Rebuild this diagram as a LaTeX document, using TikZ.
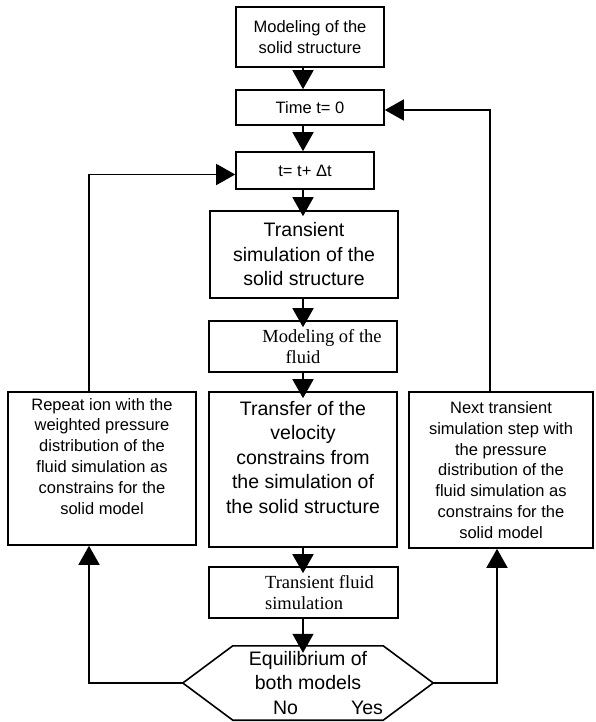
\documentclass[tikz,border=0pt]{standalone}
\usepackage{fontspec}
\setmainfont{Liberation Sans}
\newfontfamily\serifface{Liberation Serif}
\usetikzlibrary{arrows.meta}

\tikzset{
	box/.style={draw, line width=1.6pt, align=center, inner sep=2pt},
	txtsmall/.style={font=\fontsize{16.5}{20.8}\selectfont},
	txtbig/.style={font=\fontsize{19.5}{24.5}\selectfont},
	txtserif/.style={font=\serifface\fontsize{18.5}{21}\selectfont},
	flow/.style={line width=1.5pt, -{Triangle[length=19pt,width=21pt]}},
}

\begin{document}
\begin{tikzpicture}[x=1pt, y=-1pt]
			%%%%% START %%%%%
			\useasboundingbox (0, 0) rectangle (595, 722);
			
			\node[box, txtsmall, minimum width=148pt, minimum height=60pt] (solid) at (310, 37) {Modeling of the\\solid structure};
			\node[box, txtsmall, minimum width=148pt, minimum height=35pt] (time) at (310, 107.5) {Time t= 0};
			\node[box, txtsmall, minimum width=138pt, minimum height=37pt] (tstep) at (305, 170.5) {t= t+ Δt};
			
			\node[box, txtbig, minimum width=188pt, minimum height=87pt] (trans) at (304, 254.5) {Transient\\simulation of the\\solid structure};
			\node[box, txtserif, minimum width=188pt, minimum height=51pt] (fluid) at (303, 346.5) {\hspace*{38pt}Modeling of the\\fluid};
			\node[box, txtbig, minimum width=188pt, minimum height=155pt] (transfer) at (303, 469.5) {Transfer of the\\velocity\\constrains from\\the simulation of\\the solid structure\\ \mbox{}};
			\node[box, txtserif, align=left, minimum width=189pt, minimum height=51pt] (fsim) at (303.5, 592.5) {\hspace*{32pt}Transient fluid\\\hspace*{32pt}simulation};
			
			\node[txtbig, align=center, minimum width=250pt, minimum height=74pt, inner sep=0pt] (eq) at (308, 683) {Equilibrium of\\both models\\\hspace*{40pt}No\hspace{53pt}Yes};
			\draw[line width=1.6pt] (eq.west) -- ([xshift=50pt]eq.north west) -- ([xshift=-50pt]eq.north east) -- (eq.east) -- ([xshift=-50pt]eq.south east) -- ([xshift=50pt]eq.south west) -- cycle;
			
			\node[box, txtsmall, minimum width=188pt, minimum height=153pt] (repeat) at (102, 468.5) {Repeat ion with the\\weighted pressure\\distribution of the\\fluid simulation as\\constrains for the\\solid model\\[4pt]};
			\node[box, txtsmall, minimum width=184pt, minimum height=156pt] (next) at (501, 470) {Next transient\\simulation step with\\the pressure\\distribution of the\\fluid simulation as\\constrains for the\\solid model};
			
			% main chain
			\draw[flow] (solid.south -| 303, 0) -- (time.north -| 303, 0);
			\draw[flow] (time.south -| 303, 0) -- (tstep.north -| 303, 0);
			\draw[flow, shorten >=-6pt] (tstep.south -| 303, 0) -- (trans.north -| 303, 0);
			\draw[flow, shorten >=-7pt] (trans.south -| 303, 0) -- (fluid.north -| 303, 0);
			\draw[flow, shorten >=-7pt] (fluid.south -| 303, 0) -- (transfer.north -| 303, 0);
			\draw[flow, shorten >=-7pt] (transfer.south -| 303, 0) -- (fsim.north -| 303, 0);
			\draw[flow, shorten >=-7pt] (fsim.south -| 303, 0) -- (eq.north -| 303, 0);
			
			% No loop
			\coordinate (nobend) at (89, 683);
			\draw[flow] (eq.west) -- (nobend) -- (nobend |- repeat.south);
			\draw[flow] (nobend |- repeat.north) |- ([yshift=-4pt]tstep.west);
			
			% Yes loop
			\coordinate (yesbend) at (497, 683);
			\coordinate (yestop) at (490, 110);
			\draw[flow] (eq.east) -- (yesbend) -- (yesbend |- next.south);
			\draw[flow] (yestop |- next.north) -- (yestop) -- (yestop -| time.east);
			
			%%%%% END %%%%%
\end{tikzpicture}
\end{document}
